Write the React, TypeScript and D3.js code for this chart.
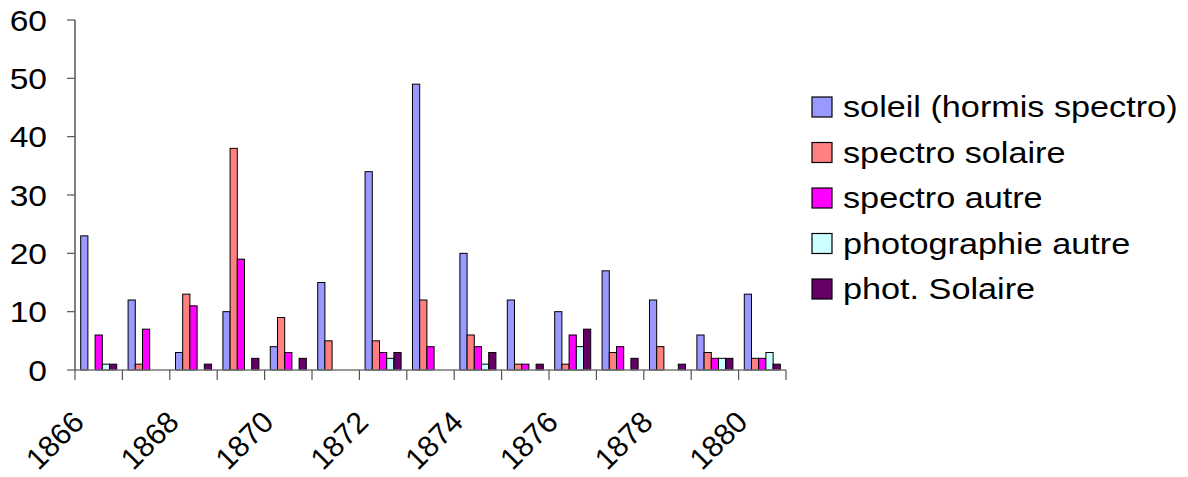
import React from 'react'
import * as d3 from 'd3'

const years = [1866, 1867, 1868, 1869, 1870, 1871, 1872, 1873, 1874, 1875, 1876, 1877, 1878, 1879, 1880]
const seriesNames = [
  'soleil (hormis spectro)',
  'spectro solaire',
  'spectro autre',
  'photographie autre',
  'phot. Solaire',
]
const soleil = [23, 12, 3, 10, 4, 15, 34, 49, 20, 12, 10, 17, 12, 6, 13]
const spectroSolaire = [0, 1, 13, 38, 9, 5, 5, 12, 6, 1, 1, 3, 4, 3, 2]
const spectroAutre = [6, 7, 11, 19, 3, 0, 3, 4, 4, 1, 6, 4, 0, 2, 2]
const photoAutre = [1, 0, 0, 0, 0, 0, 2, 0, 1, 0, 4, 0, 0, 2, 3]
const photSolaire = [1, 0, 1, 2, 2, 0, 3, 0, 3, 1, 7, 2, 1, 2, 1]
const yTicks = [0, 10, 20, 30, 40, 50, 60]
const colors = ['#9999FF', '#FF8080', '#FF00FF', '#CCFFFF', '#660066']

const allSeries = [soleil, spectroSolaire, spectroAutre, photoAutre, photSolaire]

const W = 1188
const H = 477
const margin = { left: 75, right: 402, top: 20, bottom: 107 }
const font = '"Liberation Sans", Arial, sans-serif'

export default function App() {
  const x0 = d3
    .scaleBand<number>()
    .domain(years)
    .range([margin.left, W - margin.right])
    .padding(0)
  const bw = x0.bandwidth()
  const x1 = d3
    .scaleBand<number>()
    .domain(d3.range(seriesNames.length))
    .range([bw * 0.12, bw * 0.88])
  const y = d3
    .scaleLinear()
    .domain([0, 60])
    .range([H - margin.bottom, margin.top])
  const y0 = y(0)

  return (
    <svg
      width={W}
      height={H}
      style={{ position: 'absolute', left: 0, top: 0, background: '#fff' }}
      fontFamily={font}
    >
      {/* bars */}
      {years.map((yr, i) => (
        <g key={yr} transform={`translate(${x0(yr)},0)`}>
          {allSeries.map((s, j) =>
            s[i] > 0 ? (
              <rect
                key={j}
                x={x1(j)}
                y={y(s[i])}
                width={x1.bandwidth()}
                height={y0 - y(s[i])}
                fill={colors[j]}
                stroke="#000"
                strokeWidth={1}
              />
            ) : null,
          )}
        </g>
      ))}

      {/* y axis */}
      <line x1={margin.left} x2={margin.left} y1={margin.top} y2={y0} stroke="#000" strokeWidth={1} />
      {yTicks.map(t => (
        <g key={t} transform={`translate(0,${y(t)})`}>
          <line x1={margin.left - 8} x2={margin.left} stroke="#555" strokeWidth={1.2} />
          <text
            transform="translate(47,0) scale(1.12,1)"
            dy="0.36em"
            textAnchor="end"
            fontSize={30}
            fill="#000"
          >
            {t}
          </text>
        </g>
      ))}

      {/* x axis */}
      <line x1={margin.left} x2={W - margin.right} y1={y0} y2={y0} stroke="#777" strokeWidth={1.5} />
      {years.concat([years[years.length - 1] + 1]).map((yr, i) => {
        const xx = margin.left + i * bw
        return <line key={yr} x1={xx} x2={xx} y1={y0} y2={y0 + 10} stroke="#555" strokeWidth={1.2} />
      })}
      {years
        .filter((_, i) => i % 2 === 0)
        .map(yr => (
          <text
            key={yr}
            transform={`translate(${(x0(yr) ?? 0) + bw / 2 - 13},${y0 + 54}) rotate(-45)`}
            textAnchor="end"
            fontSize={30}
            fill="#000"
          >
            {yr}
          </text>
        ))}

      {/* legend */}
      {seriesNames.map((name, j) => {
        const cy = 107 + j * 45.5
        return (
          <g key={name} transform={`translate(812,${cy})`}>
            <rect x={0} y={-10} width={20} height={20} fill={colors[j]} stroke="#000" strokeWidth={1.2} />
            <text transform="translate(31,0) scale(1.18,1)" dy="0.36em" fontSize={29} fill="#000">
              {name}
            </text>
          </g>
        )
      })}
    </svg>
  )
}
